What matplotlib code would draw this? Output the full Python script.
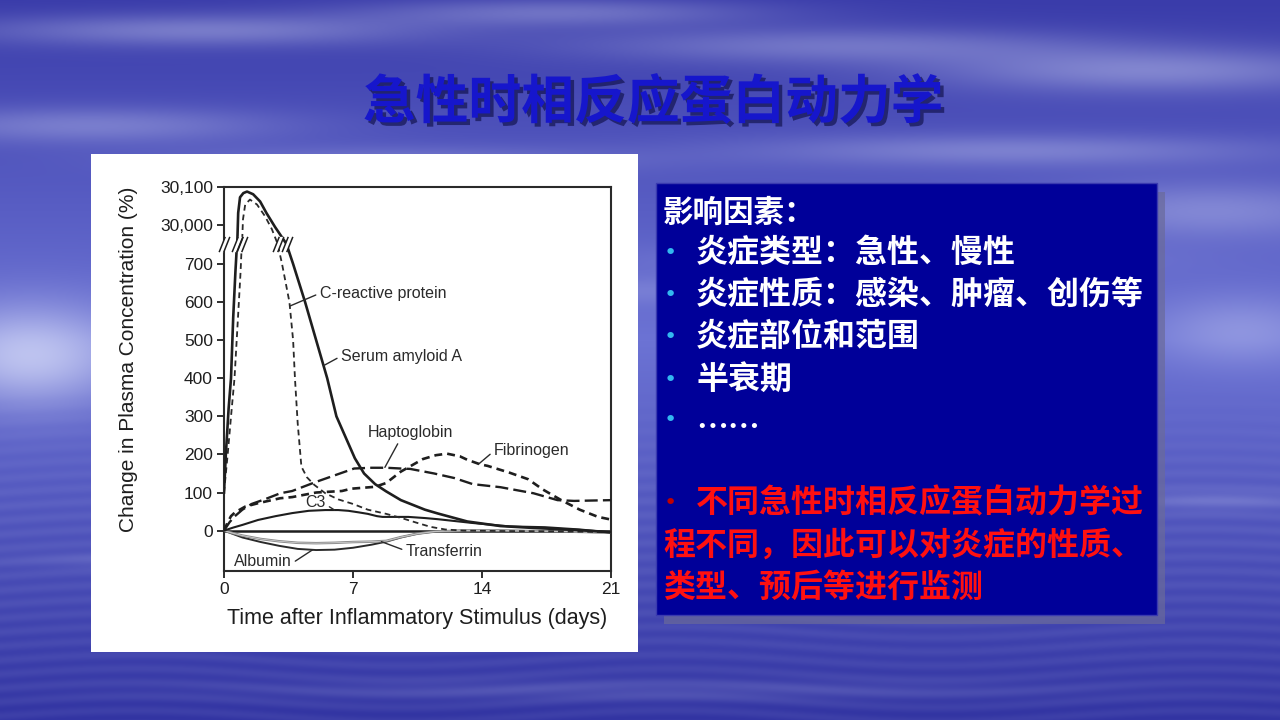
import numpy as np
import matplotlib
matplotlib.use("Agg")
import matplotlib.pyplot as plt
from matplotlib.path import Path
from matplotlib.patches import Rectangle
from matplotlib.ticker import NullLocator
import matplotlib.patheffects as pe

# ---------------- data ----------------
title = "急性时相反应蛋白动力学"
x_label = "Time after Inflammatory Stimulus (days)"
y_label = "Change in Plasma Concentration (%)"
x_ticks = [0, 7, 14, 21]
y_ticks = [0, 100, 200, 300, 400, 500, 600, 700, 30000, 30100]
y_tick_labels = ["0", "100", "200", "300", "400", "500", "600", "700", "30,000", "30,100"]

saa_days = [0, 0.1, 0.25, 0.38, 0.5, 0.62, 0.70, 0.72, 0.77, 0.87, 1.05, 1.25, 1.58, 1.96,
            2.3, 2.77, 3.37, 3.42, 3.75, 4.4, 5.0, 5.6, 6.1, 6.6, 7.1, 7.6, 8.2, 8.8, 9.6,
            10.9, 11.6, 13.2, 15.0, 16.8, 19.0, 21.0]
saa_vals = [100, 200, 320, 400, 560, 680, 748, 29952, 30032, 30073, 30084, 30088, 30081, 30062,
            30032, 29995, 29952, 748, 700, 600, 500, 400, 300, 245, 190, 150, 122, 103, 80,
            55, 45, 24, 12, 7, 2, -4]

crp_days = [0, 0.2, 0.4, 0.57, 0.76, 0.9, 0.96, 0.98, 1.03, 1.15, 1.41, 1.79, 2.23, 2.6, 2.9,
            2.93, 3.15, 3.55, 3.75, 3.85, 4.0, 4.2, 4.5, 4.9, 5.5, 6.2, 7.0, 7.8, 8.8, 9.7,
            10.5, 11.2, 12.0, 13.0, 15.0, 18.0, 21.0]
crp_vals = [100, 200, 310, 400, 560, 680, 748, 29952, 30015, 30054, 30067, 30054, 30023, 29989, 29952,
            748, 700, 600, 500, 400, 281, 168, 140, 120, 98, 82, 70, 55, 44, 32,
            20, 10, 3, 0, -1, -2, -4]

hapto_days = [0, 0.3, 0.57, 1.0, 1.5, 2.2, 3.05, 3.7, 5.0, 6.0, 7.06, 8.0, 8.8, 9.6, 10.1,
              11.4, 12.5, 13.5, 15.0, 16.8, 18.1, 19.0, 21.0]
hapto_vals = [0, 22, 37, 55, 70, 82, 98, 104, 128, 145, 163, 165, 165, 163, 162,
              150, 138, 122, 114, 98, 80, 78, 80]

fib_days = [0, 0.2, 0.38, 0.6, 1.15, 1.85, 3.05, 3.7, 5.0, 6.4, 6.9, 8.2, 8.8, 9.6, 10.8,
            11.5, 12.1, 12.8, 13.2, 13.9, 14.3, 15.5, 16.5, 17.3, 18.3, 19.3, 20.3, 21.0]
fib_vals = [0, 22, 38, 48, 63, 72, 85, 88, 100, 104, 110, 115, 125, 155, 188,
            198, 202, 195, 186, 174, 170, 152, 135, 108, 80, 55, 36, 29]

c3_days = [0, 0.5, 1.0, 1.85, 2.8, 3.7, 4.6, 5.5, 6.2, 6.75, 7.3, 7.8, 8.3, 8.6, 10.0,
           10.9, 11.6, 13.5, 15.5, 17.4, 19.3, 21.0]
c3_vals = [0, 8, 15, 28, 38, 46, 52, 54, 54, 52, 48, 44, 38, 36, 36,
           33, 30, 20, 11, 9, 3, -5]

alb_days = [0, 0.5, 1, 2, 3, 4, 5, 6, 7, 8, 8.8, 9.6, 10.5, 11.5, 13, 15, 18, 21]
alb_vals = [0, -9, -18, -30, -40, -48, -51, -50, -45, -37, -29, -18, -8, -2, 0, 0, -2, -5]

trf_days = [0, 0.5, 1, 2, 3, 4, 5, 6, 7, 8, 8.8, 9.6, 10.5, 11.5, 13, 15, 18, 21]
trf_vals = [0, -7, -13, -22, -28, -32, -33, -32, -30, -29, -27, -17, -8, -2, 0, 0, -2, -5]

# axis-break marks (day positions where the curves cross the break)
break_days = [0, 0.71, 0.97, 2.92, 3.40]

# labels: text, text position (day, value), point on curve (day, value), relpos, ha
labels = [
    ("C-reactive protein", (5.2, 623), (3.6, 590), (0, 0.5), "left"),
    ("Serum amyloid A", (6.35, 458), (5.4, 433), (0, 0.5), "left"),
    ("Haptoglobin", (10.1, 258), (8.73, 166), (0.38, 0.0), "center"),
    ("Fibrinogen", (14.65, 209), (13.8, 174), (0, 0.5), "left"),
    ("C3", (4.95, 73), (6.0, 54), (1.0, 0.4), "center"),
    ("Albumin", (0.52, -81), (4.82, -50), (1.0, 0.35), "left"),
    ("Transferrin", (9.87, -55), (8.54, -29), (0, 0.55), "left"),
]

box_heading = "影响因素："
box_bullets = ["炎症类型：急性、慢性", "炎症性质：感染、肿瘤、创伤等", "炎症部位和范围", "半衰期", "……"]
box_red = ["不同急性时相反应蛋白动力学过", "程不同，因此可以对炎症的性质、", "类型、预后等进行监测"]

# ---------------- figure ----------------
W, H = 1280, 720
fig = plt.figure(figsize=(12.8, 7.2), dpi=100)

# background (decorative sky/sea texture)
Yg, Xg = np.mgrid[0:H, 0:W].astype(float)
top_c = np.array([58, 60, 170.0])
mid_c = np.array([108, 115, 212.0])
bot_c = np.array([50, 52, 162.0])
t1 = np.clip(Yg / 340.0, 0, 1)[..., None]
t2 = np.clip((Yg - 340) / 380.0, 0, 1)[..., None]
base = np.where((Yg < 340)[..., None], top_c * (1 - t1) + mid_c * t1, mid_c * (1 - t2) + bot_c * t2)
alpha = np.zeros((H, W))
blobs = [(200, 30, 230, 16, .35), (560, 12, 200, 14, .30), (830, 45, 260, 18, .30),
         (1150, 70, 220, 22, .38), (90, 125, 190, 18, .30), (400, 160, 220, 14, .22),
         (1010, 150, 260, 16, .30), (1210, 210, 160, 28, .30), (900, 260, 220, 16, .22),
         (30, 355, 100, 50, .70), (1240, 330, 90, 35, .30), (640, 290, 300, 14, .15),
         (640, 690, 400, 10, .12), (150, 560, 120, 8, .12), (1220, 500, 100, 10, .15)]
for cx, cy, sx, sy, s in blobs:
    alpha += s * np.exp(-((Xg - cx) / sx) ** 2 - ((Yg - cy) / sy) ** 2)
sea = np.clip((Yg - 380) / 120, 0, 1) * 0.06 * (1 + np.sin(Yg * 0.45 + 2.5 * np.sin(Xg / 85.0))) / 2
alpha += sea
alpha = np.clip(alpha, 0, 0.85)[..., None]
white = np.array([225, 230, 252.0])
bg = (base * (1 - alpha) + white * alpha) / 255.0
bgax = fig.add_axes([0, 0, 1, 1], zorder=-10)
bgax.imshow(bg, aspect="auto", extent=[0, W, H, 0])
bgax.set_axis_off()

# title
fig.text(653 / W, 1 - 103 / H, title, ha="center", va="center", fontsize=38, fontweight="bold",
         color="#1616cc", family=["Noto Sans CJK SC", "DejaVu Sans"],
         path_effects=[pe.withSimplePatchShadow(offset=(2.5, -2.5), shadow_rgbFace="#0a0a40", alpha=0.6)])

# white chart panel
fig.add_artist(Rectangle((91 / W, 1 - 652 / H), 547 / W, 498 / H, transform=fig.transFigure,
                         facecolor="white", edgecolor="none", zorder=0))

# blue text box with shadow
fig.add_artist(Rectangle((664 / W, 1 - 624 / H), 501 / W, 432 / H, transform=fig.transFigure,
                         facecolor="#6a6a9a", edgecolor="none", alpha=0.7, zorder=0))
fig.add_artist(Rectangle((656 / W, 1 - 615 / H), 501 / W, 432 / H, transform=fig.transFigure,
                         facecolor="#000099", edgecolor="#3a3ab0", linewidth=1.0, zorder=1))

cjk = ["Noto Sans CJK SC", "DejaVu Sans"]
fig.text(663 / W, 1 - 213 / H, box_heading, ha="left", va="center", fontsize=22,
         fontweight="bold", color="white", family=cjk, zorder=2)
bullet_y = [253, 295, 337, 380, 425]
for txt, yy in zip(box_bullets, bullet_y):
    by = yy - 5 if txt == "……" else yy
    fig.text(670 / W, 1 - by / H, "•", ha="center", va="center", fontsize=16,
             color="#33b8f0", family=["DejaVu Sans"], zorder=2)
    ty = yy + 3 if txt == "……" else yy
    fig.text(696 / W, 1 - ty / H, txt, ha="left", va="center", fontsize=23,
             fontweight="bold", color="white", family=cjk, zorder=2)
red_y = [503, 546, 588]
fig.text(670 / W, 1 - 503 / H, "•", ha="center", va="center", fontsize=16,
         color="#c00000", family=["DejaVu Sans"], zorder=2)
for i, (txt, yy) in enumerate(zip(box_red, red_y)):
    x0 = 696 if i == 0 else 663
    fig.text(x0 / W, 1 - yy / H, txt, ha="left", va="center", fontsize=23,
             fontweight="bold", color="#ff1010", family=cjk, zorder=2)

# ---------------- chart ----------------
BRK_LO, BRK_HI, GAP = 750.0, 29950.0, 2.0
SPAN = BRK_HI - BRK_LO


def fwd(y):
    y = np.asarray(y, dtype=float)
    return np.where(y <= BRK_LO, y,
                    np.where(y >= BRK_HI, y - SPAN + GAP, BRK_LO + (y - BRK_LO) * GAP / SPAN))


def inv(y):
    y = np.asarray(y, dtype=float)
    return np.where(y <= BRK_LO, y,
                    np.where(y >= BRK_LO + GAP, y + SPAN - GAP, BRK_LO + (y - BRK_LO) * SPAN / GAP))


ink = "#1e1e1e"
ax = fig.add_axes([224 / W, 1 - 571 / H, 387 / W, 384 / H], zorder=3)
ax.set_yscale("function", functions=(fwd, inv))
ax.set_xlim(0, 21)
ax.set_ylim(-106, 30100)
ax.patch.set_alpha(0)

ax.axhline(0, color=ink, lw=1.8, zorder=2)
ax.plot(alb_days, alb_vals, color="#2a2a2a", lw=1.4, zorder=3)
ax.plot(trf_days, trf_vals, color="#8a8a8a", lw=1.8, zorder=3)
ax.plot(trf_days, trf_vals, color="#d8d8d8", lw=0.5, zorder=3)
ax.plot(c3_days, c3_vals, color=ink, lw=1.5, zorder=3)
ax.plot(hapto_days, hapto_vals, color=ink, lw=1.7, dashes=(5.5, 2.2), zorder=3)
ax.plot(fib_days, fib_vals, color=ink, lw=1.9, dashes=(3.0, 1.9), zorder=3)
ax.plot(crp_days, crp_vals, color="#2a2a2a", lw=1.3, dashes=(3.2, 2.2), zorder=4)
ax.plot(saa_days, saa_vals, color=ink, lw=1.9, zorder=4)

# break marks
gap_marker = Path([(-0.35, -0.5), (0.05, 0.5), (0.35, 0.5), (-0.05, -0.5), (-0.35, -0.5)],
                  [Path.MOVETO, Path.LINETO, Path.LINETO, Path.LINETO, Path.CLOSEPOLY])
slash_marker = Path([(-0.35, -0.5), (0.05, 0.5), (-0.05, -0.5), (0.35, 0.5)],
                    [Path.MOVETO, Path.LINETO, Path.MOVETO, Path.LINETO])
by = [BRK_HI] * len(break_days)
ax.plot(break_days, by, ls="none", marker=gap_marker, markersize=11, markerfacecolor="white",
        markeredgecolor="none", clip_on=False, zorder=6)
ax.plot(break_days, by, ls="none", marker=slash_marker, markersize=11, markerfacecolor="none",
        markeredgecolor=ink, markeredgewidth=1.1, clip_on=False, zorder=7)

ax.set_xticks(x_ticks)
ax.set_yticks(y_ticks)
ax.set_yticklabels(y_tick_labels)
ax.yaxis.set_minor_locator(NullLocator())
ax.xaxis.set_minor_locator(NullLocator())
chart_font = ["Liberation Sans", "DejaVu Sans"]
ax.tick_params(direction="out", length=5, width=1.3, colors=ink, labelsize=12.5, pad=3)
for lab in ax.get_xticklabels() + ax.get_yticklabels():
    lab.set_family(chart_font)
for sp in ax.spines.values():
    sp.set_linewidth(1.5)
    sp.set_color("#2a2a2a")

ax.set_xlabel(x_label, fontsize=15.5, family=chart_font, color=ink, labelpad=8)
ax.set_ylabel(y_label, fontsize=15, family=chart_font, color=ink)
ax.yaxis.set_label_coords(-0.222, 0.552)

for txt, tpos, ppos, rel, ha in labels:
    ax.annotate(txt, xy=ppos, xytext=tpos, ha=ha, va="center", fontsize=11.5,
                family=chart_font, color="#2a2a2a", zorder=8,
                arrowprops=dict(arrowstyle="-", lw=1.0, color="#2a2a2a", shrinkA=1, shrinkB=0,
                                relpos=rel))

fig.savefig("out.png", dpi=100)
